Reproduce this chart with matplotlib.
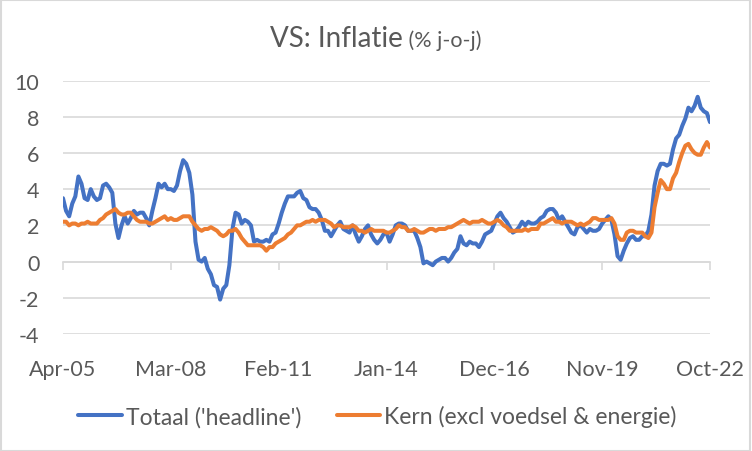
import matplotlib
matplotlib.use("Agg")
import matplotlib.pyplot as plt
from matplotlib.patches import Rectangle

# US CPI, % year-on-year, monthly from Apr-05 to Oct-22
headline = [
    3.5, 2.8, 2.5, 3.2, 3.6, 4.7, 4.3, 3.5, 3.4,                    # 2005 (Apr-Dec)
    4.0, 3.6, 3.4, 3.5, 4.2, 4.3, 4.1, 3.8, 2.1, 1.3, 2.0, 2.5,     # 2006
    2.1, 2.4, 2.8, 2.6, 2.7, 2.7, 2.4, 2.0, 2.8, 3.5, 4.3, 4.1,     # 2007
    4.3, 4.0, 4.0, 3.9, 4.2, 5.0, 5.6, 5.4, 4.9, 3.7, 1.1, 0.1,     # 2008
    0.0, 0.2, -0.4, -0.7, -1.3, -1.4, -2.1, -1.5, -1.3, -0.2, 1.8, 2.7,  # 2009
    2.6, 2.1, 2.3, 2.2, 2.0, 1.1, 1.2, 1.1, 1.1, 1.2, 1.1, 1.5,     # 2010
    1.6, 2.1, 2.7, 3.2, 3.6, 3.6, 3.6, 3.8, 3.9, 3.5, 3.4, 3.0,     # 2011
    2.9, 2.9, 2.7, 2.3, 1.7, 1.7, 1.4, 1.7, 2.0, 2.2, 1.8, 1.7,     # 2012
    1.6, 2.0, 1.5, 1.1, 1.4, 1.8, 2.0, 1.5, 1.2, 1.0, 1.2, 1.5,     # 2013
    1.6, 1.1, 1.5, 2.0, 2.1, 2.1, 2.0, 1.7, 1.7, 1.7, 1.3, 0.8,     # 2014
    -0.1, 0.0, -0.1, -0.2, 0.0, 0.1, 0.2, 0.2, 0.0, 0.2, 0.5, 0.7,  # 2015
    1.4, 1.0, 0.9, 1.1, 1.0, 1.0, 0.8, 1.1, 1.5, 1.6, 1.7, 2.1,     # 2016
    2.5, 2.7, 2.4, 2.2, 1.9, 1.6, 1.7, 1.9, 2.2, 2.0, 2.2, 2.1,     # 2017
    2.1, 2.2, 2.4, 2.5, 2.8, 2.9, 2.9, 2.7, 2.3, 2.5, 2.2, 1.9,     # 2018
    1.6, 1.5, 1.9, 2.0, 1.8, 1.6, 1.8, 1.7, 1.7, 1.8, 2.1, 2.3,     # 2019
    2.5, 2.3, 1.5, 0.3, 0.1, 0.6, 1.0, 1.3, 1.4, 1.2, 1.2, 1.4,     # 2020
    1.4, 1.7, 2.6, 4.2, 5.0, 5.4, 5.4, 5.3, 5.4, 6.2, 6.8, 7.0,     # 2021
    7.5, 7.9, 8.5, 8.3, 8.6, 9.1, 8.5, 8.3, 8.2, 7.7,               # 2022 (Jan-Oct)
]

core = [
    2.2, 2.2, 2.0, 2.1, 2.1, 2.0, 2.1, 2.1, 2.2,                    # 2005 (Apr-Dec)
    2.1, 2.1, 2.1, 2.3, 2.4, 2.6, 2.7, 2.8, 2.9, 2.7, 2.6, 2.6,     # 2006
    2.7, 2.7, 2.5, 2.3, 2.2, 2.2, 2.2, 2.1, 2.1, 2.2, 2.3, 2.4,     # 2007
    2.5, 2.3, 2.4, 2.3, 2.3, 2.4, 2.5, 2.5, 2.5, 2.2, 2.0, 1.8,     # 2008
    1.7, 1.8, 1.8, 1.9, 1.8, 1.7, 1.5, 1.4, 1.5, 1.7, 1.7, 1.8,     # 2009
    1.6, 1.3, 1.1, 0.9, 0.9, 0.9, 0.9, 0.9, 0.8, 0.6, 0.8, 0.8,     # 2010
    1.0, 1.1, 1.2, 1.3, 1.5, 1.6, 1.8, 2.0, 2.0, 2.1, 2.2, 2.2,     # 2011
    2.3, 2.2, 2.3, 2.3, 2.3, 2.2, 2.1, 1.9, 2.0, 2.0, 1.9, 1.9,     # 2012
    1.9, 2.0, 1.9, 1.7, 1.7, 1.6, 1.7, 1.8, 1.7, 1.7, 1.7, 1.7,     # 2013
    1.6, 1.6, 1.7, 1.8, 2.0, 1.9, 1.9, 1.7, 1.7, 1.8, 1.7, 1.6,     # 2014
    1.6, 1.7, 1.8, 1.8, 1.7, 1.8, 1.8, 1.8, 1.9, 1.9, 2.0, 2.1,     # 2015
    2.2, 2.3, 2.2, 2.1, 2.2, 2.2, 2.2, 2.3, 2.2, 2.1, 2.1, 2.2,     # 2016
    2.3, 2.2, 2.0, 1.9, 1.7, 1.7, 1.7, 1.7, 1.7, 1.8, 1.7, 1.8,     # 2017
    1.8, 1.8, 2.1, 2.1, 2.2, 2.3, 2.4, 2.2, 2.2, 2.1, 2.2, 2.2,     # 2018
    2.2, 2.1, 2.0, 2.1, 2.0, 2.1, 2.2, 2.4, 2.4, 2.3, 2.3, 2.3,     # 2019
    2.3, 2.4, 2.1, 1.4, 1.2, 1.2, 1.6, 1.7, 1.7, 1.6, 1.6, 1.6,     # 2020
    1.4, 1.3, 1.6, 3.0, 3.8, 4.5, 4.3, 4.0, 4.0, 4.6, 4.9, 5.5,     # 2021
    6.0, 6.4, 6.5, 6.2, 6.0, 5.9, 5.9, 6.3, 6.6, 6.3,               # 2022 (Jan-Oct)
]

tick_labels = ['Apr-05', 'Mar-08', 'Feb-11', 'Jan-14', 'Dec-16', 'Nov-19', 'Oct-22']
tick_step = 35  # months between axis labels
y_ticks = [-4, -2, 0, 2, 4, 6, 8, 10]

series_names = ["Totaal ('headline')", "Kern (excl voedsel & energie)"]

# Colours
blue = '#4472C4'
orange = '#ED7D31'
text_grey = '#595959'
grid_grey = '#D9D9D9'

plt.rcParams['font.family'] = ['Lato', 'DejaVu Sans']
plt.rcParams['axes.unicode_minus'] = False

fig = plt.figure(figsize=(7.52, 4.52), dpi=100)
ax = fig.add_axes([63 / 752, 1 - 335 / 452, (710 - 63) / 752, (335 - 81.5) / 452])

months = list(range(len(headline)))
ax.plot(months, headline, color=blue, linewidth=2.9, solid_joinstyle='round',
        solid_capstyle='round', label=series_names[0], zorder=3)
ax.plot(months, core, color=orange, linewidth=2.9, solid_joinstyle='round',
        solid_capstyle='round', label=series_names[1], zorder=4)

# Axes limits & ticks
ax.set_xlim(0, len(headline) - 1)
ax.set_ylim(y_ticks[0], y_ticks[-1])
ax.set_yticks(y_ticks)
ax.set_xticks(range(0, len(headline), tick_step))
ax.set_xticklabels(tick_labels)

# Grid
ax.grid(axis='y', color=grid_grey, linewidth=1.2, zorder=0)
ax.set_axisbelow(True)

# Horizontal axis sits at zero, labels at the bottom (Excel style)
for side in ['top', 'right', 'left']:
    ax.spines[side].set_visible(False)
ax.spines['bottom'].set_position(('data', 0))
ax.spines['bottom'].set_color(grid_grey)
ax.spines['bottom'].set_linewidth(1.2)
ax.tick_params(axis='x', direction='out', length=6, width=1.2, color=grid_grey,
               pad=64, labelsize=15.5, labelcolor=text_grey)
ax.tick_params(axis='y', length=0, pad=17, labelsize=15.5, labelcolor=text_grey)

# Legend
fig.legend(loc='center', bbox_to_anchor=(0.502, 0.077), ncol=2, frameon=False,
           fontsize=16.5, handlelength=1.9, handletextpad=0.17, columnspacing=1.55,
           labelcolor=text_grey)

# Title in two sizes, centred as one line
t1 = fig.text(0, 1 - 47 / 452, 'VS: Inflatie', fontsize=20, color=text_grey,
              ha='left', va='baseline')
t2 = fig.text(0, 1 - 47 / 452, ' (% j-o-j)', fontsize=15.5, color=text_grey,
              ha='left', va='baseline')
fig.canvas.draw()
renderer = fig.canvas.get_renderer()
w1 = t1.get_window_extent(renderer).width
w2 = t2.get_window_extent(renderer).width
x_start = (752 - (w1 + w2)) / 2
t1.set_x(x_start / 752)
t2.set_x((x_start + w1) / 752)

# Chart border
fig.patches.append(Rectangle((0.001, 0.001), 0.997, 0.996, transform=fig.transFigure,
                             fill=False, edgecolor=grid_grey, linewidth=1.5))

fig.savefig('out.png', dpi=100)
